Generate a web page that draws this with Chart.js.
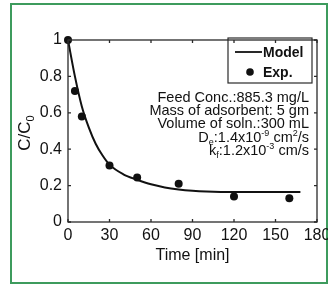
<!DOCTYPE html>
<html>
<head>
<meta charset="utf-8">
<script src="https://cdn.jsdelivr.net/npm/chart.js@4.4.1/dist/chart.umd.min.js"></script>
<style>
  body { margin:0; width:328px; height:286px; overflow:hidden; background:#fff; }
  canvas { display:block; }
</style>
</head>
<body>
<canvas id="myChart" width="345" height="286"></canvas>
<script>
// experimental points (time in min, C/C0)
const expTime = [0, 5, 10, 30, 50, 80, 120, 160];
const expConc = [1, 0.72, 0.58, 0.31, 0.245, 0.21, 0.14, 0.13];

// model curve
const modelTime = [0, 5, 10, 15, 20, 25, 30, 40, 50, 60, 70, 80, 90, 100, 120, 140, 168];
const modelConc = [1, 0.80, 0.635, 0.52, 0.43, 0.365, 0.315, 0.262, 0.232, 0.207, 0.19, 0.179, 0.172, 0.168, 0.165, 0.165, 0.165];

const xTicks = [0, 30, 60, 90, 120, 150, 180];
const yTicks = [0, 0.2, 0.4, 0.6, 0.8, 1];

const noteLines = [
  [['Feed Conc.:885.3 mg/L', 'n']],
  [['Mass of adsorbent: 5 gm', 'n']],
  [['Volume of soln.:300 mL', 'n']],
  [['D', 'n'], ['e', 'sub'], [':1.4x10', 'n'], ['-9', 'sup'], [' cm', 'n'], ['2', 'sup'], ['/s', 'n']],
  [['k', 'n'], ['f', 'sub'], [':1.2x10', 'n'], ['-3', 'sup'], [' cm/s', 'n']]
];

const FONT = '"Liberation Sans", Arial, sans-serif';
const INK = '#111';

function drawRich(ctx, segs, xRight, y, size) {
  const small = Math.round(size * 0.62);
  let total = 0;
  segs.forEach(s => {
    ctx.font = (s[1] == 'n' ? size : small) + 'px ' + FONT;
    total += ctx.measureText(s[0]).width;
  });
  let x = xRight - total;
  ctx.textAlign = 'left';
  ctx.textBaseline = 'alphabetic';
  segs.forEach(s => {
    ctx.font = (s[1] == 'n' ? size : small) + 'px ' + FONT;
    let dy = 0;
    if (s[1] == 'sub') dy = 3;
    if (s[1] == 'sup') dy = -6;
    ctx.fillText(s[0], x, y + dy);
    x += ctx.measureText(s[0]).width;
  });
}

const decor = {
  id: 'decor',
  beforeDraw(chart) {
    const ctx = chart.ctx;
    ctx.save();
    ctx.strokeStyle = '#3d9b5d';
    ctx.lineWidth = 2;
    ctx.strokeRect(11, 4, 316, 279);
    ctx.restore();
  },
  afterDraw(chart) {
    const ctx = chart.ctx;
    const a = chart.chartArea;
    const xs = chart.scales.x, ys = chart.scales.y;
    ctx.save();
    // box + inward ticks
    ctx.strokeStyle = '#2a2a2a';
    ctx.lineWidth = 1.3;
    ctx.strokeRect(a.left, a.top, a.right - a.left, a.bottom - a.top);
    ctx.beginPath();
    xTicks.forEach(t => {
      const px = xs.getPixelForValue(t);
      ctx.moveTo(px, a.bottom); ctx.lineTo(px, a.bottom - 3);
      ctx.moveTo(px, a.top); ctx.lineTo(px, a.top + 3);
    });
    yTicks.forEach(t => {
      const py = ys.getPixelForValue(t);
      ctx.moveTo(a.left, py); ctx.lineTo(a.left + 3, py);
      ctx.moveTo(a.right, py); ctx.lineTo(a.right - 3, py);
    });
    ctx.stroke();

    // legend box
    ctx.lineWidth = 1.2;
    ctx.strokeRect(228, 38, 84, 45);
    ctx.strokeStyle = INK;
    ctx.lineWidth = 1.8;
    ctx.beginPath();
    ctx.moveTo(235, 52); ctx.lineTo(262, 52);
    ctx.stroke();
    ctx.fillStyle = INK;
    ctx.beginPath();
    ctx.arc(250, 72, 3.8, 0, Math.PI * 2);
    ctx.fill();
    ctx.font = 'bold 14px ' + FONT;
    ctx.textAlign = 'left';
    ctx.textBaseline = 'middle';
    ctx.fillText('Model', 263, 53);
    ctx.fillText('Exp.', 263, 73);

    // notes
    noteLines.forEach((segs, i) => {
      drawRich(ctx, segs, 309, 101.5 + i * 13.4, 14.5);
    });

    // axis titles
    ctx.font = '16px ' + FONT;
    ctx.textAlign = 'center';
    ctx.textBaseline = 'alphabetic';
    ctx.fillText('Time [min]', (a.left + a.right) / 2, 260);

    ctx.translate(30, 133);
    ctx.rotate(-Math.PI / 2);
    ctx.font = '17px ' + FONT;
    ctx.textAlign = 'left';
    const w1 = ctx.measureText('C/C').width;
    ctx.font = '11px ' + FONT;
    const w2 = ctx.measureText('0').width;
    const x0 = -(w1 + w2) / 2;
    ctx.font = '17px ' + FONT;
    ctx.fillText('C/C', x0, 0);
    ctx.font = '11px ' + FONT;
    ctx.fillText('0', x0 + w1, 4);
    ctx.restore();
  }
};

const ctx = document.getElementById('myChart').getContext('2d');

const myChart = new Chart(ctx, {
  type: 'scatter',
  data: {
    datasets: [{
      label: 'Model',
      data: modelTime.map((t, i) => ({x: t, y: modelConc[i]})),
      showLine: true,
      borderColor: INK,
      borderWidth: 2,
      pointRadius: 0,
      cubicInterpolationMode: 'monotone',
      clip: false
    }, {
      label: 'Exp.',
      data: expTime.map((t, i) => ({x: t, y: expConc[i]})),
      pointRadius: 4,
      backgroundColor: INK,
      borderWidth: 0,
      clip: false
    }]
  },
  options: {
    responsive: false,
    animation: false,
    layout: { padding: { top: 40, right: 28, left: 0, bottom: 0 } },
    plugins: { legend: { display: false }, tooltip: { enabled: false } },
    scales: {
      x: {
        type: 'linear', min: 0, max: 180,
        afterBuildTicks: s => { s.ticks = xTicks.map(v => ({value: v})); },
        afterFit: s => { s.height = 64; },
        ticks: { font: { family: FONT, size: 16 }, color: INK, padding: 4, maxRotation: 0, autoSkip: false,
                 callback: v => String(v) },
        grid: { display: false, drawTicks: false },
        border: { display: false }
      },
      y: {
        min: 0, max: 1,
        afterBuildTicks: s => { s.ticks = yTicks.map(v => ({value: v})); },
        afterFit: s => { s.width = 68; },
        ticks: { font: { family: FONT, size: 16 }, color: INK, padding: 6,
                 callback: v => String(v) },
        grid: { display: false, drawTicks: false },
        border: { display: false }
      }
    }
  },
  plugins: [decor]
});
</script>
</body>
</html>
